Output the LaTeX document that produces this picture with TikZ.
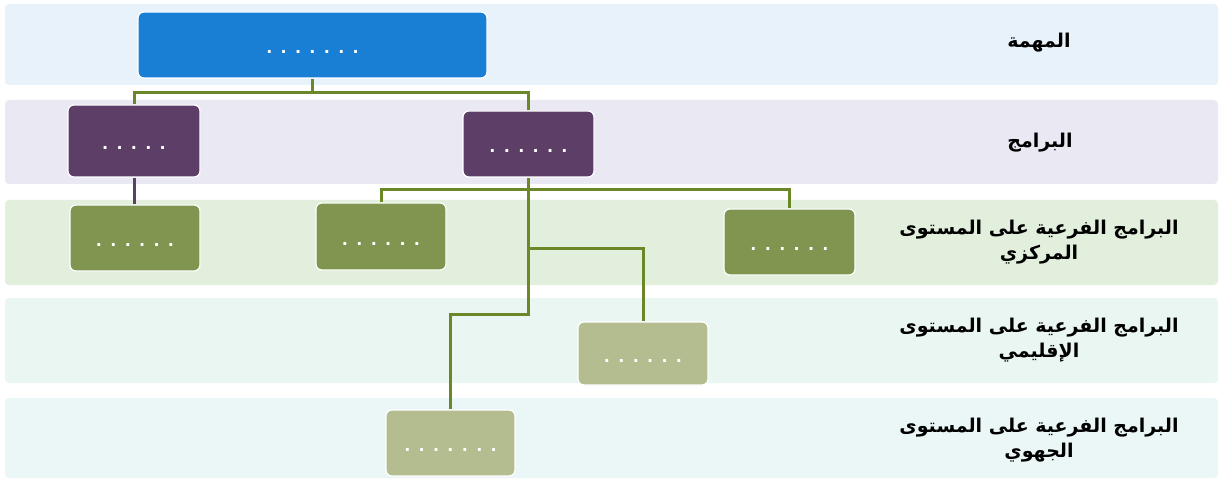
\documentclass[tikz,border=0pt]{standalone}
\usepackage{fontspec}
\setmainfont{DejaVu Sans}
\newfontfamily\arabicfont[Script=Arabic]{DejaVu Sans}
\newfontfamily\dotfont[LetterSpace=52]{DejaVu Sans}
\TeXXeTstate=1
\definecolor{bandA}{RGB}{231,242,251}
\definecolor{bandB}{RGB}{234,232,243}
\definecolor{bandC}{RGB}{227,239,221}
\definecolor{bandD}{RGB}{234,246,241}
\definecolor{bandE}{RGB}{235,247,246}
\definecolor{boxblue}{RGB}{24,127,213}
\definecolor{boxpurple}{RGB}{93,62,103}
\definecolor{boxgreen}{RGB}{128,150,80}
\definecolor{boxlight}{RGB}{179,189,143}
\definecolor{linegreen}{RGB}{107,135,40}
\tikzset{
  band/.style={fill=#1, draw=none, rounded corners=4pt},
  box/.style={rectangle, rounded corners=6pt, fill=#1, draw=white, line width=1.2pt, inner sep=0pt},
  dotlbl/.style={text=white, font=\dotfont\bfseries\fontsize{16}{16}\selectfont, inner sep=0pt},
  lbl/.style={font=\arabicfont\bfseries\fontsize{19}{25}\selectfont, align=center, text=black},
  conn/.style={draw=linegreen, line width=3pt},
  pconn/.style={draw=boxpurple, line width=3pt}
}
\begin{document}
\begin{tikzpicture}[x=1pt,y=-1pt]
\useasboundingbox (0,0) rectangle (1221,481);
\fill[white] (0,0) rectangle (1221,481);
% bands
\fill[band=bandA] (5,4) rectangle (1218,85);
\fill[band=bandB] (5,100) rectangle (1218,184);
\fill[band=bandC] (5,200) rectangle (1218,285);
\fill[band=bandD] (5,298) rectangle (1218,383);
\fill[band=bandE] (5,398) rectangle (1218,478);
% boxes
\node[box=boxblue, minimum width=349pt, minimum height=66pt] (top) at (312.5,45) {};
\node[box=boxpurple, minimum width=132pt, minimum height=72pt] (p1) at (134,141) {};
\node[box=boxpurple, minimum width=131pt, minimum height=66pt] (p2) at (528.5,144) {};
\node[box=boxgreen, minimum width=130pt, minimum height=66pt] (g1) at (135,238) {};
\node[box=boxgreen, minimum width=130pt, minimum height=67pt] (g2) at (381,236.5) {};
\node[box=boxgreen, minimum width=131pt, minimum height=66pt] (g3) at (789.5,242) {};
\node[box=boxlight, minimum width=130pt, minimum height=63pt] (r4) at (643,353.5) {};
\node[box=boxlight, minimum width=129pt, minimum height=66pt] (r5) at (450.5,443) {};
% dots
\node[dotlbl] (dtop) at ([yshift=-7pt]top.center) {.......};
\node[dotlbl] (dp1) at ([yshift=-7pt]p1.center) {.....};
\node[dotlbl] (dp2) at ([yshift=-7pt]p2.center) {......};
\node[dotlbl] (dg1) at ([yshift=-7pt]g1.center) {......};
\node[dotlbl] (dg2) at ([yshift=-7pt]g2.center) {......};
\node[dotlbl] (dg3) at ([yshift=-7pt]g3.center) {......};
\node[dotlbl] (dr4) at ([yshift=-7pt]r4.center) {......};
\node[dotlbl] (dr5) at ([yshift=-7pt]r5.center) {.......};
% junctions
\coordinate (j1) at (312.5,93);
\coordinate (h1) at (528.5,190);
\coordinate (k3) at (528.5,249);
\coordinate (k4) at (528.5,314);
% connectors
\draw[conn] (top.south) -- (j1);
\draw[conn] (p1.north) -- (p1.north |- j1) -- (p2.north |- j1) -- (p2.north);
\draw[conn] (p2.south) -- (k4) -| (r5.north);
\draw[conn] (g2.north) -- (g2.north |- h1) -- (g3.north |- h1) -- (g3.north);
\draw[conn] (k3) -| (r4.north);
\draw[pconn] (p1.south) -- (p1.south |- g1.north);
% labels
\node[lbl] (l1) at (1039,43) {\beginR المهمة\endR};
\node[lbl] (l2) at (1040,143) {\beginR البرامج\endR};
\node[lbl] (l3) at (1039,242) {\beginR البرامج الفرعية على المستوى\endR\\\beginR المركزي\endR};
\node[lbl] (l4) at (1039,340) {\beginR البرامج الفرعية على المستوى\endR\\\beginR الإقليمي\endR};
\node[lbl] (l5) at (1039,440) {\beginR البرامج الفرعية على المستوى\endR\\\beginR الجهوي\endR};
\end{tikzpicture}
\end{document}
